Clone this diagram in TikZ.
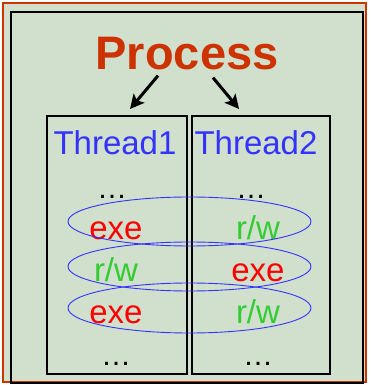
\documentclass[tikz,border=0pt]{standalone}
\usepackage{fontspec}
\setmainfont{Liberation Sans}
\usepackage{tikz}
\usetikzlibrary{arrows.meta,positioning,calc}
\definecolor{sagebg}{HTML}{D1DFCD}
\definecolor{procred}{HTML}{CC3300}
\definecolor{thrblue}{HTML}{3333FF}
\definecolor{exered}{HTML}{FF0000}
\definecolor{rwgreen}{HTML}{33CC33}
\tikzset{
  frame/.style={draw=procred, fill=sagebg, line width=2pt},
  procbox/.style={draw=black, line width=2.2pt},
  thrbox/.style={draw=black, line width=2pt, minimum height=258pt, inner sep=0pt},
  proclabel/.style={font=\fontsize{47}{50}\selectfont\bfseries, text=procred, inner sep=0pt},
  thrlabel/.style={font=\fontsize{33}{36}\selectfont, text=thrblue, inner sep=0pt},
  op/.style={font=\fontsize{33}{36}\selectfont, inner sep=0pt},
  exe/.style={op, text=exered},
  rw/.style={op, text=rwgreen},
  more/.style={font=\fontsize{30}{32}\selectfont, inner sep=0pt},
  ring/.style={draw=thrblue, line width=0.9pt},
  flow/.style={-{Stealth[length=14pt,width=14pt,inset=3pt]}, line width=3pt},
}
\begin{document}
\begin{tikzpicture}[x=1pt,y=1pt]
  \useasboundingbox (0,0) rectangle (371,385);
  % outer frame and process box
  \draw[frame] (3,3) rectangle (366,382);
  \draw[procbox] (11,2) rectangle (363,373);
  \node[proclabel, anchor=base] (proc) at (187,315) {Process};
  % the two threads
  \node[thrbox, minimum width=140pt, anchor=north] (t1) at (117,270) {};
  \node[thrbox, minimum width=138pt, anchor=north] (t2) at (261,270) {};
  \node[thrlabel, anchor=base] (t1name) at (115,230) {Thread1};
  \node[thrlabel, anchor=base] (t2name) at (256,230) {Thread2};
  \draw[flow] ([shift={(-29,-5)}]proc.south) -- ([shift={(13,6)}]t1.north);
  \draw[flow] ([shift={(26,-7)}]proc.south) -- ([shift={(-22,6)}]t2.north);
  % instruction streams
  \node[more, anchor=base] (d1a) at (112,186) {…};
  \node[more, anchor=base] (d2a) at (251,186) {…};
  \node[exe, anchor=base] (a1) at (116,145) {exe};
  \node[rw,  anchor=base] (b1) at (258,145) {r/w};
  \node[rw,  anchor=base] (a2) at (116,103) {r/w};
  \node[exe, anchor=base] (b2) at (258,103) {exe};
  \node[exe, anchor=base] (a3) at (116,61) {exe};
  \node[rw,  anchor=base] (b3) at (258,61) {r/w};
  \node[more, anchor=base] (d1b) at (116,19) {…};
  \node[more, anchor=base] (d2b) at (258,19) {…};
  % interleavings across the threads
  \foreach \yc/\ry in {163.5/24.5, 118.5/24.5, 77/25}
    \draw[ring] (189.5,\yc) ellipse [x radius=121.5, y radius=\ry];
\end{tikzpicture}
\end{document}
